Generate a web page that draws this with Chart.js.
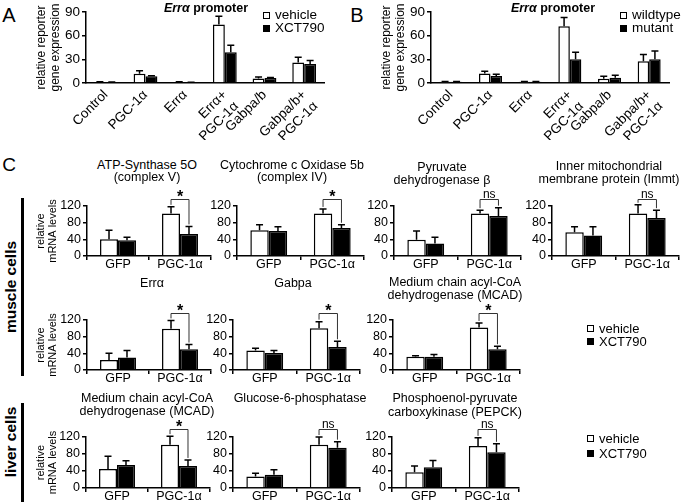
<!DOCTYPE html>
<html>
<head>
<meta charset="utf-8">
<script src="https://cdn.jsdelivr.net/npm/chart.js@4.4.1/dist/chart.umd.min.js"></script>
<style>
body { margin: 0; background: #fff; }
#fig { position: relative; width: 684px; height: 502px; overflow: hidden; font-family: "Liberation Sans", Arial, sans-serif; color: #000; }
#fig canvas { position: absolute; }
.t { position: absolute; white-space: nowrap; line-height: 1; }
.box { position: absolute; width: 5px; height: 5px; border: 1px solid #000; }
.vbar { position: absolute; width: 3px; background: #000; }
</style>
</head>
<body>
<div id="fig"></div>
<script>
// A / B: Err-alpha promoter reporter assay
const promoterLabels = ['Control', 'PGC-1α', 'Errα', ['Errα+', 'PGC-1α'], 'Gabpa/b', ['Gabpa/b+', 'PGC-1α']];
const promoterTicks = [0, 30, 60, 90];
const aVehicle = [1.2, 11.7, 1.2, 74, 5.8, 26];
const aVehicleErr = [0.4, 3.8, 0.3, 10.5, 1.7, 6.6];
const aXct = [1.0, 8.4, 0.8, 39, 6.2, 24];
const aXctErr = [0.3, 0.8, 0.2, 9, 0.8, 4.4];
const bWildtype = [1.5, 12, 1.5, 72, 5.5, 27.5];
const bWildtypeErr = [0.4, 3, 0.3, 11, 3, 8.5];
const bMutant = [1.5, 9, 1.5, 30, 6.8, 30];
const bMutantErr = [0.3, 2, 0.3, 9, 3, 10.5];

// C: relative mRNA levels, GFP vs PGC-1a
const cCategories = ['GFP', 'PGC-1α'];
const cTicks = [0, 40, 80, 120];
const atpVeh = [40, 102], atpVehErr = [22, 16], atpXct = [38, 53], atpXctErr = [7, 18];
const coxVeh = [62, 102], coxVehErr = [13, 11], coxXct = [60, 67], coxXctErr = [10, 8];
const pdhVeh = [39, 102], pdhVehErr = [21, 8], pdhXct = [30, 96], pdhXctErr = [15, 20];
const immtVeh = [57, 102], immtVehErr = [13, 21], immtXct = [49, 91], immtXctErr = [21, 19];
const erraVeh = [24, 99], erraVehErr = [16, 20], erraXct = [30, 50], erraXctErr = [17, 11];
const gabpaVeh = [47, 100], gabpaVehErr = [5, 16], gabpaXct = [41, 55], gabpaXctErr = [6, 14];
const mcadMVeh = [32, 102], mcadMVehErr = [2, 11], mcadMXct = [32, 50], mcadMXctErr = [5, 7];
const mcadLVeh = [45, 102], mcadLVehErr = [30, 20], mcadLXct = [54, 52], mcadLXctErr = [10, 14];
const g6pVeh = [27, 102], g6pVehErr = [8, 18], g6pXct = [31, 95], g6pXctErr = [12, 14];
const pepckVeh = [37, 99], pepckVehErr = [15, 19], pepckXct = [49, 84], pepckXctErr = [16, 20];
const sigLevel = 138;

const FONT = '"Liberation Sans", Arial, sans-serif';
const fig = document.getElementById('fig');

// error bars + significance brackets
const marks = {
  id: 'marks',
  afterDatasetsDraw(chart) {
    const o = chart.options.plugins.marks;
    const ctx = chart.ctx;
    const y = chart.scales.y;
    const ds = chart.data.datasets;
    ctx.save();
    ctx.strokeStyle = '#000';
    ctx.lineWidth = 1.5;
    ds.forEach((d, i) => {
      chart.getDatasetMeta(i).data.forEach((bar, j) => {
        const top = y.getPixelForValue(d.data[j] + d.errors[j]);
        ctx.beginPath();
        ctx.moveTo(bar.x, bar.y);
        ctx.lineTo(bar.x, top);
        ctx.moveTo(bar.x - o.cap / 2, top);
        ctx.lineTo(bar.x + o.cap / 2, top);
        ctx.stroke();
      });
    });
    if (o.sig) {
      const b0 = chart.getDatasetMeta(0).data[1];
      const b1 = chart.getDatasetMeta(1).data[1];
      const t0 = y.getPixelForValue(ds[0].data[1] + ds[0].errors[1]);
      const t1 = y.getPixelForValue(ds[1].data[1] + ds[1].errors[1]);
      const by = Math.round(y.getPixelForValue(sigLevel)) + 0.5;
      const mid = (b0.x + b1.x) / 2;
      ctx.strokeStyle = '#333';
      ctx.lineWidth = 1;
      ctx.beginPath();
      ctx.moveTo(b0.x, t0 - 2);
      ctx.lineTo(b0.x, by);
      ctx.lineTo(b1.x, by);
      ctx.lineTo(b1.x, t1 - 2);
      ctx.stroke();
      ctx.fillStyle = '#000';
      ctx.textAlign = 'center';
      if (o.sig === '*') {
        ctx.font = 'bold 16px ' + FONT;
        ctx.fillText('*', mid, by + 2);
      } else {
        ctx.font = '12px ' + FONT;
        ctx.fillText('ns', mid, by - 2);
      }
    }
    ctx.restore();
  }
};

function barPanel(p) {
  const cv = document.createElement('canvas');
  cv.width = p.yW + p.width + p.padR;
  cv.height = p.padT + (p.bottom - p.top) + p.xH;
  cv.style.left = (p.left - p.yW) + 'px';
  cv.style.top = (p.top - p.padT) + 'px';
  fig.appendChild(cv);
  const tickFont = { family: FONT, size: p.fontSize };
  new Chart(cv, {
    type: 'bar',
    data: {
      labels: p.labels,
      datasets: [
        { data: p.v1, errors: p.e1, backgroundColor: '#fff', borderColor: '#000', borderWidth: 1.5 },
        { data: p.v2, errors: p.e2, backgroundColor: '#000', borderColor: '#000', borderWidth: 1.5 }
      ]
    },
    options: {
      responsive: false,
      animation: false,
      events: [],
      layout: { padding: { top: p.padT, right: p.padR, left: 0, bottom: 0 } },
      datasets: { bar: { categoryPercentage: p.catPct, barPercentage: 1 } },
      plugins: {
        legend: { display: false },
        tooltip: { enabled: false },
        marks: { cap: 7, sig: p.sig }
      },
      scales: {
        x: {
          grid: p.rotate
            ? { display: false, drawTicks: false }
            : { display: true, drawOnChartArea: false, tickLength: 4, color: '#000', lineWidth: 1.5 },
          border: { display: true, color: '#000', width: 1.5 },
          ticks: {
            color: '#000', font: tickFont, autoSkip: false,
            padding: p.rotate ? 4 : -3,
            minRotation: p.rotate ? 45 : 0, maxRotation: p.rotate ? 45 : 0
          },
          afterFit(s) { s.height = p.xH; }
        },
        y: {
          min: 0,
          max: p.ticks[p.ticks.length - 1],
          afterBuildTicks(s) { s.ticks = p.ticks.map(v => ({ value: v })); },
          grid: { display: true, drawOnChartArea: false, tickLength: 4, color: '#000', lineWidth: 1.5 },
          border: { display: true, color: '#000', width: 1.5 },
          ticks: { color: '#000', font: tickFont, padding: 2, autoSkip: false },
          title: {
            display: !!p.yTitle, text: p.yTitle, color: '#000', padding: 0,
            font: { family: FONT, size: p.titleSize || 11, lineHeight: p.titleLH || 1.1 }
          },
          afterFit(s) { s.width = p.yW; }
        }
      }
    },
    plugins: [marks]
  });
}

function text(str, x, y, css, align) {
  const d = document.createElement('div');
  d.className = 't';
  d.innerHTML = str;
  d.style.cssText += css;
  d.style.left = x + 'px';
  d.style.top = y + 'px';
  d.style.transform = align === 'left' ? 'translate(0,-50%)'
    : align === 'rot' ? 'translate(-50%,-50%) rotate(-90deg)' : 'translate(-50%,-50%)';
  fig.appendChild(d);
}

function legend(x, y1, y2, names, size) {
  [[y1, '#fff'], [y2, '#000']].forEach(([yy, c], i) => {
    const b = document.createElement('div');
    b.className = 'box';
    b.style.left = x + 'px';
    b.style.top = (yy - 3.5) + 'px';
    b.style.background = c;
    fig.appendChild(b);
    text(names[i], x + 12, yy, 'font-size:' + size + 'px;', 'left');
  });
}

// ---- A and B
barPanel({ left: 86, top: 12, bottom: 83, width: 238, yW: 52, padT: 12, padR: 12, xH: 57,
  labels: promoterLabels, ticks: promoterTicks, v1: aVehicle, e1: aVehicleErr, v2: aXct, e2: aXctErr,
  catPct: 0.6, fontSize: 13.5, rotate: true, yTitle: ['relative reporter', 'gene expression'], titleSize: 12, titleLH: 1.2 });
barPanel({ left: 431, top: 12, bottom: 83, width: 238, yW: 52, padT: 12, padR: 12, xH: 57,
  labels: promoterLabels, ticks: promoterTicks, v1: bWildtype, e1: bWildtypeErr, v2: bMutant, e2: bMutantErr,
  catPct: 0.58, fontSize: 13.5, rotate: true, yTitle: ['relative reporter', 'gene expression'], titleSize: 12, titleLH: 1.2 });

text('A', 9, 15, 'font-size:20px;');
text('B', 357, 15, 'font-size:20px;');
text('<i>Err</i><i>α</i> promoter', 206, 8, 'font-size:12.5px;font-weight:bold;');
text('<i>Err</i><i>α</i> promoter', 553, 8, 'font-size:12.5px;font-weight:bold;');
legend(263, 15, 28, ['vehicle', 'XCT790'], 13.5);
legend(620, 15, 28, ['wildtype', 'mutant'], 13.5);

// ---- C
const row1 = { top: 206, bottom: 256 };
const row2 = { top: 320, bottom: 370 };
const row3 = { top: 437, bottom: 488 };
const cPanels = [
  { left: 87, row: row1, v1: atpVeh, e1: atpVehErr, v2: atpXct, e2: atpXctErr, sig: '*', first: true },
  { left: 237, row: row1, v1: coxVeh, e1: coxVehErr, v2: coxXct, e2: coxXctErr, sig: '*' },
  { left: 394, row: row1, v1: pdhVeh, e1: pdhVehErr, v2: pdhXct, e2: pdhXctErr, sig: 'ns' },
  { left: 552, row: row1, v1: immtVeh, e1: immtVehErr, v2: immtXct, e2: immtXctErr, sig: 'ns' },
  { left: 87, row: row2, v1: erraVeh, e1: erraVehErr, v2: erraXct, e2: erraXctErr, sig: '*', first: true },
  { left: 233, row: row2, v1: gabpaVeh, e1: gabpaVehErr, v2: gabpaXct, e2: gabpaXctErr, sig: '*' },
  { left: 393, row: row2, v1: mcadMVeh, e1: mcadMVehErr, v2: mcadMXct, e2: mcadMXctErr, sig: '*' },
  { left: 86, row: row3, v1: mcadLVeh, e1: mcadLVehErr, v2: mcadLXct, e2: mcadLXctErr, sig: '*', first: true },
  { left: 233, row: row3, v1: g6pVeh, e1: g6pVehErr, v2: g6pXct, e2: g6pXctErr, sig: 'ns' },
  { left: 392, row: row3, v1: pepckVeh, e1: pepckVehErr, v2: pepckXct, e2: pepckXctErr, sig: 'ns' }
];
cPanels.forEach(c => {
  barPanel({ left: c.left, top: c.row.top, bottom: c.row.bottom, width: c.first ? 124 : 127,
    yW: c.first ? c.left - 35 : 30, padT: 30, padR: 4, xH: 18,
    labels: cCategories, ticks: cTicks, v1: c.v1, e1: c.e1, v2: c.v2, e2: c.e2,
    catPct: 0.58, fontSize: 12.5, sig: c.sig,
    yTitle: c.first ? ['relative', 'mRNA levels'] : null });
});

const ct = 'font-size:12.5px;';
text('C', 9, 164, 'font-size:19px;');
text('ATP-Synthase 5O', 147, 165, ct);
text('(complex V)', 147, 177, ct);
text('Cytochrome c Oxidase 5b', 292, 165, ct);
text('(complex IV)', 292, 177, ct);
text('Pyruvate', 442, 167, ct);
text('dehydrogenase β', 442, 180, ct);
text('Inner mitochondrial', 609, 166, ct);
text('membrane protein (Immt)', 609, 179, ct);
text('Errα', 152, 283, ct);
text('Gabpa', 293, 283, ct);
text('Medium chain acyl-CoA', 455, 282, ct);
text('dehydrogenase (MCAD)', 455, 295, ct);
text('Medium chain acyl-CoA', 147, 398, ct);
text('dehydrogenase (MCAD)', 147, 411, ct);
text('Glucose-6-phosphatase', 300, 398, ct);
text('Phosphoenol-pyruvate', 455, 398, ct);
text('carboxykinase (PEPCK)', 455, 412, ct);
legend(587, 328, 341, ['vehicle', 'XCT790'], 13);
legend(587, 438, 453, ['vehicle', 'XCT790'], 13);

text('muscle cells', 11, 287, 'font-size:15.5px;font-weight:bold;', 'rot');
text('liver cells', 11, 442, 'font-size:15.5px;font-weight:bold;', 'rot');
[[198, 376], [403, 502]].forEach(([a, b]) => {
  const v = document.createElement('div');
  v.className = 'vbar';
  v.style.left = '21px';
  v.style.top = a + 'px';
  v.style.height = (b - a) + 'px';
  fig.appendChild(v);
});
</script>
</body>
</html>
